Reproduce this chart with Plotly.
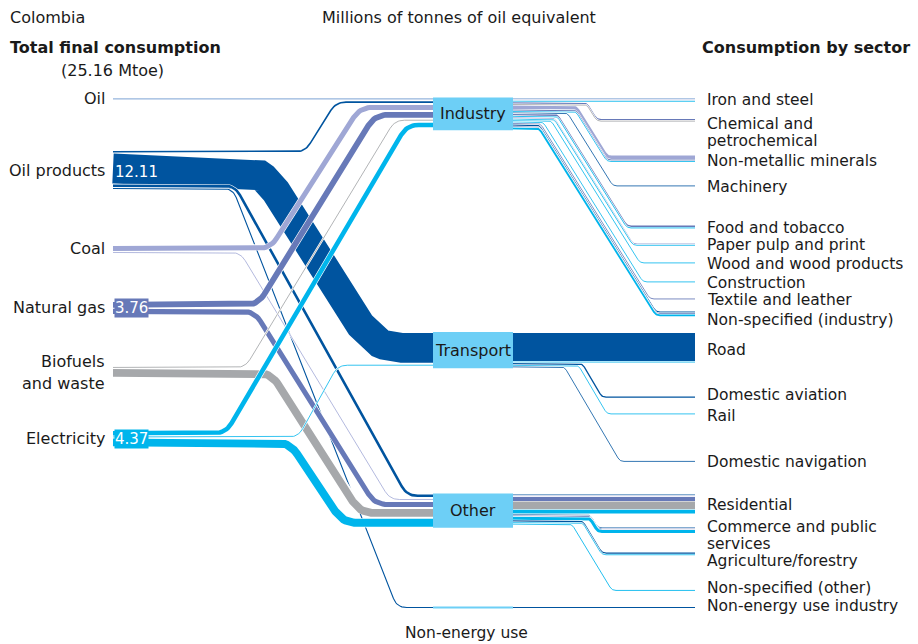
import numpy as np
import plotly.graph_objects as go

# ---------------- data (Mtoe) ----------------
FUELS = ["Oil", "Oil products", "Coal", "Natural gas", "Biofuels and waste", "Electricity"]
HUBS = ["Industry", "Transport", "Other", "Non-energy use"]
SECTORS = ["Iron and steel", "Chemical and\npetrochemical", "Non-metallic minerals", "Machinery",
           "Food and tobacco", "Paper pulp and print", "Wood and wood products", "Construction",
           "Textile and leather", "Non-specified (industry)",
           "Road", "Domestic aviation", "Rail", "Domestic navigation",
           "Residential", "Commerce and public\nservices", "Agriculture/forestry", "Non-specified (other)",
           "Non-energy use industry"]
SECTOR_HUB = [0] * 10 + [1] * 4 + [2] * 4 + [3]

#              Ir   Chm   NMM  Mach  Food  Pap  Wood Cons Text NSi   Road  Avi  Rail Nav   Res   Com   Agr  NSo  NEU
oil =         [0.07, 0,    0,    0,    0,    0,    0,   0,   0,   0,    0,    0,   0,   0,    0,    0,    0,   0,   0]
oil_products = [0,   0,    0,    0.10, 0,    0,    0,   0,   0,   0.45, 9.75, 0.45, 0,   0.08, 0.30, 0.10, 0.50, 0,  0.38]
coal =        [0.15, 0,    1.25, 0,    0,    0.35, 0,   0,   0,   0,    0,    0,   0,   0,    0.10, 0,    0,   0,   0]
natural_gas = [0,    0.45, 0.40, 0,    0.55, 0,    0,   0,   0.30, 0.30, 0,   0,   0,   0,    1.46, 0.30, 0,   0,   0]
biofuels =    [0,    0.30, 0,    0,    0,    0,    0,   0,   0,   0,    0,    0,   0,   0,    2.70, 0,    0,   0,   0]
electricity = [0.25, 0,    0.15, 0,    0.30, 0.10, 0.05, 0.10, 0,  0.63, 0.03, 0,   0.01, 0,   1.30, 1.05, 0.10, 0.30, 0]

VALUES = [oil, oil_products, coal, natural_gas, biofuels, electricity]

# ---------------- layout / style ----------------
FUEL_COLORS = ["#5b8bc9", "#00549f", "#9fa7d5", "#6779b8", "#a6a8ab", "#00b5ec"]
HUB_COLOR = "#6dcff6"
TEXT = "#1a1a1a"
FONT = "DejaVu Sans"
FS = 15.5
K = 2.9          # px per Mtoe
WMIN = 0.8
SRC_X, HUB_X0, HUB_X1, END_X, LABEL_X = 113, 433, 513, 695, 705
SRC_TOP = [98.5, 151, 246, 302, 367, 431]
SRC_LABEL_Y = [98, 170, 248, 307, 361, 438]
HUB_TOP = [98.5, 333, 494.5, 607.0]
SRC_GAP, HUB_GAP, IN_GAP, SEC_GAP = 1.0, 2.0, 0.4, 0.6
# arrival x and slope of each fuel -> hub link
LINK_GEOM = {(1, 0): (336, 1.6), (1, 1): (375, 1.58), (1, 2): (407, 1.8), (1, 3): (397, 2.55),
             (2, 0): (360, 1.57), (2, 2): (390, 1.65),
             (3, 0): (375, 1.62), (3, 2): (375, 1.6),
             (4, 0): (395, 1.65), (4, 2): (360, 1.57),
             (5, 0): (407, 1.7), (5, 1): (338, 1.8), (5, 2): (343, 1.5)}
RIGHT_SLOPE = [1.6, 1.7, 1.65, 1.6]
SECTOR_END_TOP = [None, 119, 155.5, 185.5, 225.5, 243.5, 262.5, 281.5, 298.5, 311.5,
                  None, 396.5, 413.5, 461, None, 527.5, 552.5, 590, None]
SECTOR_XEND = [None, 597, 607, 613, 627, 633, 640, 643, 650, 656,
               None, 602, 607, 620, None, 598, 602, 612, None]
SECTOR_LABEL_Y = [100, 124, 161, 187, 228, 245, 264, 283, 300, 320,
                  350, 395, 416, 462, 505, 527, 561, 588, 606]


def wid(v):
    return max(v * K, WMIN)


def rounded(pts, r):
    if len(pts) < 3:
        return pts
    out = [pts[0]]
    for i in range(1, len(pts) - 1):
        p0, p1, p2 = (np.array(pts[i - 1], float), np.array(pts[i], float), np.array(pts[i + 1], float))
        d1, d2 = np.linalg.norm(p0 - p1), np.linalg.norm(p2 - p1)
        rr = min(r, d1 * 0.45, d2 * 0.45)
        if rr < 0.5:
            out.append(tuple(p1))
            continue
        a = p1 + (p0 - p1) * rr / d1
        b = p1 + (p2 - p1) * rr / d2
        for t in np.linspace(0, 1, 12):
            q = (1 - t) ** 2 * a + 2 * (1 - t) * t * p1 + t ** 2 * b
            out.append(tuple(q))
    out.append(pts[-1])
    return out


fig = go.Figure()


def add_line(pts, w, color):
    xs = [p[0] for p in pts]
    ys = [p[1] for p in pts]
    fig.add_trace(go.Scatter(x=xs, y=ys, mode="lines", line=dict(color="white", width=w + 1.2),
                             hoverinfo="skip", showlegend=False))
    fig.add_trace(go.Scatter(x=xs, y=ys, mode="lines", line=dict(color=color, width=w),
                             hoverinfo="skip", showlegend=False))


nF, nH, nS = len(FUELS), len(HUBS), len(SECTORS)
link_val = [[sum(VALUES[f][s] for s in range(nS) if SECTOR_HUB[s] == h) for h in range(nH)] for f in range(nF)]

# source stacking
src_y = {}
for f in range(nF):
    y = SRC_TOP[f]
    for h in range(nH):
        v = link_val[f][h]
        if v > 0:
            w = wid(v)
            src_y[(f, h)] = y + w / 2
            y += w + SRC_GAP

# hub left stacking
hub_y = {}
hub_left_end = []
for h in range(nH):
    y = HUB_TOP[h]
    for f in range(nF):
        v = link_val[f][h]
        if v > 0:
            w = wid(v)
            hub_y[(f, h)] = y + w / 2
            y += w + HUB_GAP
    hub_left_end.append(y - HUB_GAP)

# hub right stacking and sector end stacking
right_start = {}
right_end = {}
hub_right_end = [HUB_TOP[h] for h in range(nH)]
for h in range(nH):
    y = HUB_TOP[h]
    for s in range(nS):
        if SECTOR_HUB[s] != h:
            continue
        ye = SECTOR_END_TOP[s] if SECTOR_END_TOP[s] is not None else y
        for f in range(nF):
            v = VALUES[f][s]
            if v > 0:
                w = wid(v)
                right_start[(f, s)] = y + w / 2
                right_end[(f, s)] = ye + w / 2
                y += w + IN_GAP
                ye += w + IN_GAP
        y += SEC_GAP - IN_GAP
    hub_right_end[h] = y - SEC_GAP

# left links
for f in range(nF):
    for h in range(nH):
        v = link_val[f][h]
        if v <= 0:
            continue
        w = wid(v)
        ys, yh = src_y[(f, h)], hub_y[(f, h)]
        if abs(yh - ys) < 0.6 or (f, h) not in LINK_GEOM:
            pts = [(SRC_X, ys), (HUB_X0 + 8, ys)]
        else:
            x1, sl = LINK_GEOM[(f, h)]
            x0 = x1 - abs(yh - ys) / sl
            pts = rounded([(SRC_X, ys), (x0, ys), (x1, yh), (HUB_X0 + 8, yh)], 9 + 0.6 * w)
        add_line(pts, w, FUEL_COLORS[f])

# right lines
for s in range(nS):
    h = SECTOR_HUB[s]
    for f in range(nF):
        v = VALUES[f][s]
        if v <= 0:
            continue
        w = wid(v)
        y0, y1 = right_start[(f, s)], right_end[(f, s)]
        if SECTOR_XEND[s] is None or abs(y1 - y0) < 0.6:
            pts = [(HUB_X1 - 8, y0), (END_X, y0)]
        else:
            xe = SECTOR_XEND[s]
            xs = xe - (y1 - y0) / RIGHT_SLOPE[h]
            pts = rounded([(HUB_X1 - 8, y0), (xs, y0), (xe, y1), (END_X, y1)], 4)
        add_line(pts, w, FUEL_COLORS[f])

# hub boxes
shapes = []
annotations = []
for h in range(nH):
    if h == 3:
        w = wid(link_val[1][3])
        yc = hub_y[(1, 3)]
        y0b, y1b = yc - w / 2 - 0.5, yc + w / 2 + 0.5
        annotations.append(dict(x=(HUB_X0 + HUB_X1) / 2 - 7, y=633, text=HUBS[h], showarrow=False,
                                xanchor="center", yanchor="middle", font=dict(size=FS, color=TEXT, family=FONT)))
    else:
        y0b = HUB_TOP[h] - 1
        y1b = max(hub_left_end[h], hub_right_end[h]) + 1
        annotations.append(dict(x=(HUB_X0 + HUB_X1) / 2, y=(y0b + y1b) / 2, text=HUBS[h], showarrow=False,
                                xanchor="center", yanchor="middle", font=dict(size=16, color=TEXT, family=FONT)))
    shapes.append(dict(type="rect", xref="x", yref="y", x0=HUB_X0, x1=HUB_X1, y0=y0b, y1=y1b,
                       fillcolor=HUB_COLOR, line=dict(width=0), layer="above"))

# source labels and values
for f in range(nF):
    parts = ["Biofuels", "and waste"] if f == 4 else [FUELS[f]]
    for i, p in enumerate(parts):
        annotations.append(dict(x=107, y=SRC_LABEL_Y[f] + 22 * i, text=p, showarrow=False,
                                xanchor="right", yanchor="middle", font=dict(size=16, color=TEXT, family=FONT)))
    total = sum(VALUES[f])
    if total >= 3.5:
        top = SRC_TOP[f]
        bottom = max(src_y[(f, h)] + wid(link_val[f][h]) / 2 for h in range(nH) if (f, h) in src_y)
        annotations.append(dict(x=SRC_X + 1, y=(top + bottom) / 2 + (2 if f == 1 else 0), text=f"{total:.2f}",
                                showarrow=False, xanchor="left", yanchor="middle",
                                bgcolor=FUEL_COLORS[f], borderpad=0,
                                font=dict(size=15, color="white", family=FONT)))

# sector labels
for s in range(nS):
    for i, p in enumerate(SECTORS[s].split("\n")):
        annotations.append(dict(x=LABEL_X, y=SECTOR_LABEL_Y[s] + 17 * i, text=p, showarrow=False,
                                xanchor="left", yanchor="middle", font=dict(size=FS, color=TEXT, family=FONT)))

tfc = sum(sum(v) for v in VALUES)
annotations += [
    dict(x=8, y=17, text="Colombia", showarrow=False, xanchor="left", yanchor="middle",
         font=dict(size=16, color=TEXT, family=FONT)),
    dict(x=320, y=17, text="Millions of tonnes of oil equivalent", showarrow=False, xanchor="left",
         yanchor="middle", font=dict(size=16, color=TEXT, family=FONT)),
    dict(x=8, y=47, text="<b>Total final consumption</b>", showarrow=False, xanchor="left", yanchor="middle",
         font=dict(size=16, color=TEXT, family=FONT)),
    dict(x=112, y=70, text=f"({tfc:.2f} Mtoe)", showarrow=False, xanchor="center", yanchor="middle",
         font=dict(size=16, color=TEXT, family=FONT)),
    dict(x=912, y=47, text="<b>Consumption by sector</b>", showarrow=False, xanchor="right", yanchor="middle",
         font=dict(size=16, color=TEXT, family=FONT)),
]

fig.update_layout(
    width=918, height=644, autosize=False,
    margin=dict(l=0, r=0, t=0, b=0, pad=0),
    paper_bgcolor="white", plot_bgcolor="white",
    xaxis=dict(range=[0, 918], visible=False, fixedrange=True),
    yaxis=dict(range=[644, 0], visible=False, fixedrange=True),
    showlegend=False, hovermode=False,
    shapes=shapes, annotations=annotations,
)

fig.write_html("out.html",
               config={"displayModeBar": False, "staticPlot": True},
               post_script="document.body.style.margin='0px';document.body.style.padding='0px';"
                           "document.body.style.overflow='hidden';")
